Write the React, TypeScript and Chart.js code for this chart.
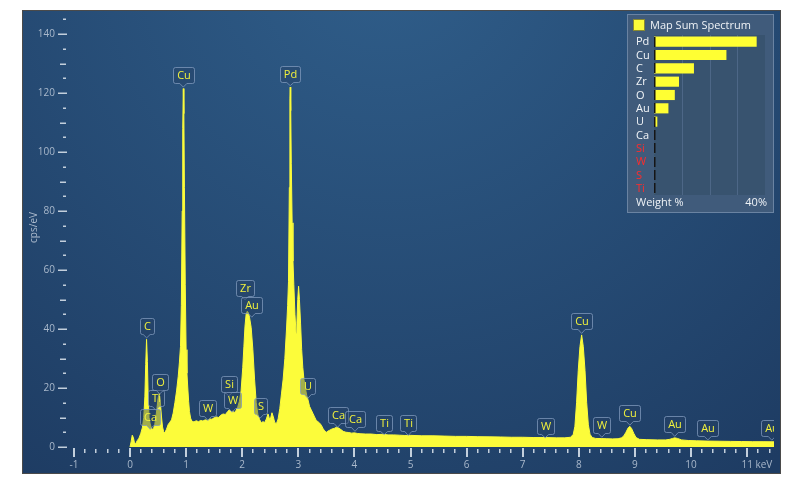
import React, { useEffect, useRef } from "react";
import { Chart, registerables } from "chart.js";
Chart.register(...registerables);

// ---------- spectrum data (keV, cps/eV) ----------
const spectrumEnergy = [
  0.0, 0.02, 0.04, 0.06, 0.08, 0.1, 0.13, 0.16, 0.19, 0.22, 0.245, 0.265, 0.28, 0.295, 0.31, 0.325, 0.34, 0.36, 0.38, 0.4,
  0.42, 0.44, 0.46, 0.48, 0.5, 0.52, 0.54, 0.56, 0.58, 0.6, 0.62, 0.65, 0.68, 0.71, 0.74, 0.77, 0.8, 0.83, 0.86, 0.88,
  0.9, 0.915, 0.93, 0.94, 0.95, 0.96, 0.97, 0.985, 1.0, 1.015, 1.03, 1.045, 1.06, 1.08, 1.1, 1.14, 1.18, 1.22, 1.26, 1.3,
  1.34, 1.38, 1.42, 1.46, 1.5, 1.54, 1.58, 1.62, 1.66, 1.7, 1.74, 1.77, 1.8, 1.83, 1.86, 1.89, 1.92, 1.95, 1.98, 2.01,
  2.03, 2.05, 2.07, 2.09, 2.11, 2.13, 2.16, 2.19, 2.22, 2.25, 2.28, 2.31, 2.34, 2.37, 2.4, 2.43, 2.46, 2.48, 2.5, 2.53,
  2.555, 2.58, 2.61, 2.64, 2.67, 2.7, 2.73, 2.76, 2.79, 2.81, 2.825, 2.84, 2.85, 2.856, 2.865, 2.875, 2.89, 2.905, 2.92, 2.94,
  2.96, 2.975, 2.99, 3.005, 3.02, 3.04, 3.06, 3.08, 3.1, 3.125, 3.15, 3.17, 3.2, 3.23, 3.26, 3.29, 3.32, 3.35, 3.38, 3.41,
  3.44, 3.47, 3.5, 3.53, 3.56, 3.6, 3.64, 3.68, 3.72, 3.76, 3.8, 3.85, 3.9, 3.95, 4.0, 4.05, 4.1, 4.2, 4.3, 4.4,
  4.5, 4.6, 4.7, 4.8, 4.9, 5.0, 5.2, 5.4, 5.6, 5.8, 6.0, 6.2, 6.4, 6.6, 6.8, 7.0, 7.2, 7.4, 7.6, 7.75,
  7.85, 7.9, 7.93, 7.96, 7.99, 8.02, 8.05, 8.08, 8.11, 8.14, 8.17, 8.2, 8.24, 8.3, 8.4, 8.5, 8.6, 8.7, 8.76, 8.8,
  8.84, 8.88, 8.91, 8.94, 8.98, 9.02, 9.08, 9.2, 9.4, 9.55, 9.62, 9.67, 9.71, 9.76, 9.83, 9.95, 10.1, 10.3, 10.5, 10.7,
  10.9, 11.1, 11.3, 11.5,
];
const spectrumCps = [
  0, 1.8, 4.0, 3.2, 1.4, 1.1, 2.2, 3.0, 4.5, 6.5, 10, 17, 28, 36.5, 29, 16, 10, 7.8, 6.5, 6.0,
  6.3, 7.5, 10, 13, 16.5, 18.2, 15.5, 10.5, 6.8, 5.2, 4.8, 6.0, 7.6, 8.4, 9.2, 11.5, 15, 19, 24, 28.5,
  34, 48, 80, 108, 121.5, 113, 88, 55, 33, 25, 20, 15.5, 12, 9.8, 8.8, 8.5, 8.9, 8.6, 9.0, 8.8,
  9.2, 9.0, 9.5, 9.4, 9.9, 10.2, 10.0, 10.8, 11.2, 11.0, 12.0, 12.6, 11.8, 12.2, 11.6, 12.4, 13.5, 15.5, 19, 27,
  34, 41, 45, 46, 45.5, 44, 40.5, 33, 23, 15, 11, 9.3, 8.2, 8.6, 8.3, 9.5, 11.2, 10.0, 9.3, 11.6,
  10.2, 8.3, 7.9, 9.5, 13, 18, 23, 30, 40, 48, 56, 88, 118, 122, 114, 96, 76, 63, 55, 45,
  38.5, 42, 50, 54.5, 50, 42, 33, 27, 23, 20, 17.5, 16.2, 13.8, 12.6, 11.4, 10.2, 9.0, 8.6, 8.1, 7.4,
  6.3, 5.4, 5.0, 5.4, 5.7, 6.1, 6.3, 6.7, 6.4, 5.9, 5.3, 5.0, 4.9, 4.7, 4.8, 4.6, 4.5, 4.4, 4.4, 4.2,
  4.3, 4.1, 4.1, 4.0, 3.9, 3.95, 3.8, 3.8, 3.7, 3.6, 3.6, 3.5, 3.45, 3.4, 3.3, 3.3, 3.2, 3.2, 3.1, 3.1,
  3.3, 4.2, 7, 15, 26, 34, 38, 34, 26, 15, 7.5, 4.3, 3.2, 2.9, 2.85, 2.8, 2.75, 2.8, 3.1, 3.7,
  5.0, 6.5, 7.0, 6.3, 4.6, 3.2, 2.6, 2.5, 2.4, 2.4, 2.6, 2.9, 3.1, 2.9, 2.4, 2.2, 2.1, 2.0, 1.95, 1.9,
  1.85, 1.8, 1.8, 1.75,
];

// ---------- peak markers ----------
const peakNames = ["C", "Ca", "Ti", "O", "Cu", "W", "Si", "W", "Zr", "Au", "S", "Pd", "U", "Ca", "Ca", "Ti", "Ti", "W", "Cu", "W", "Cu", "Au", "Au", "Au"];
const peakEnergy = [0.297, 0.36, 0.46, 0.53, 0.95, 1.39, 1.76, 1.82, 2.05, 2.17, 2.32, 2.856, 3.17, 3.7, 4.01, 4.53, 4.96, 7.4, 8.05, 8.41, 8.91, 9.71, 10.3, 11.44];
const peakCps = [37, 6, 12.5, 18, 122, 9.0, 17.3, 11.8, 50, 44, 9.8, 122.5, 16.5, 6.7, 5.3, 4.2, 3.9, 3.1, 38.5, 3.3, 7.4, 3.6, 2.4, 2.3];

// ---------- axis ticks ----------
const xMajorTicks = [-1, 0, 1, 2, 3, 4, 5, 6, 7, 8, 9, 10, 11];
const xTickLabels = ["-1", "0", "1", "2", "3", "4", "5", "6", "7", "8", "9", "10", "11"];
const yMajorTicks = [0, 20, 40, 60, 80, 100, 120, 140];
const yTickLabels = ["0", "20", "40", "60", "80", "100", "120", "140"];

// ---------- inset (weight %) ----------
const elements = ["Pd", "Cu", "C", "Zr", "O", "Au", "U", "Ca", "Si", "W", "S", "Ti"];
const weightPct = [37, 26.1, 14.4, 9.0, 7.5, 5.2, 1.2, 0.2, 0.05, 0.05, 0.05, 0.05];
const flagged = [false, false, false, false, false, false, false, false, true, true, true, true];
const insetGrid = [10, 20, 30];

const FONT = "'Open Sans', 'Noto Sans', sans-serif";
const YELLOW = "#fcfc3a";

const bgPlugin = {
  id: "bgPlugin",
  beforeDraw(chart: any) {
    const { ctx, width, height } = chart;
    ctx.save();
    const g = ctx.createRadialGradient(width * 0.48, -60, 20, width * 0.48, -60, 640);
    g.addColorStop(0, "#2f5d89");
    g.addColorStop(1, "#1e3c63");
    ctx.fillStyle = g;
    ctx.fillRect(0, 0, width, height);
    ctx.strokeStyle = "#4a4a4a";
    ctx.lineWidth = 1;
    ctx.strokeRect(0.5, 0.5, width - 1, height - 1);
    ctx.restore();
  },
};

const axesPlugin = {
  id: "axesPlugin",
  afterDraw(chart: any) {
    const { ctx, chartArea: a } = chart;
    const xs = chart.scales.x;
    const ys = chart.scales.y;
    ctx.save();
    ctx.fillStyle = "#c3cfdc";
    for (let v = 0; v <= 145; v += 5) {
      const py = Math.round(ys.getPixelForValue(v));
      if (yMajorTicks.includes(v)) ctx.fillRect(a.left - 12, py - 0.5, 9, 1.5);
      else if (v % 10 === 0) ctx.fillRect(a.left - 10, py - 0.5, 6, 1.5);
      else ctx.fillRect(a.left - 7, py - 0.5, 3, 1.5);
    }
    for (let i = -5; i <= 57; i++) {
      const v = i / 5;
      const px = Math.round(xs.getPixelForValue(v));
      if (i % 5 === 0) ctx.fillRect(px - 1, a.bottom + 1, 2, 9);
      else ctx.fillRect(px - 1, a.bottom + 2, 1.5, 4);
    }
    ctx.fillStyle = "#a9b8cb";
    ctx.font = `10px ${FONT}`;
    ctx.textBaseline = "middle";
    ctx.textAlign = "right";
    yMajorTicks.forEach((v, i) => {
      ctx.fillText(yTickLabels[i], a.left - 15, ys.getPixelForValue(v));
    });
    xMajorTicks.forEach((v, i) => {
      const px = xs.getPixelForValue(v);
      const py = a.bottom + 18;
      if (i === xMajorTicks.length - 1) {
        const w = ctx.measureText(xTickLabels[i]).width;
        ctx.textAlign = "left";
        ctx.fillText(xTickLabels[i] + " keV", px - w / 2, py);
      } else {
        ctx.textAlign = "center";
        ctx.fillText(xTickLabels[i], px, py);
      }
    });
    ctx.save();
    ctx.translate(a.left - 36, (a.top + a.bottom) / 2 - 2);
    ctx.rotate(-Math.PI / 2);
    ctx.textAlign = "center";
    ctx.fillText("cps/eV", 0, 0);
    ctx.restore();
    ctx.restore();
  },
};

const peakLabelPlugin = {
  id: "peakLabelPlugin",
  afterDatasetsDraw(chart: any) {
    const { ctx, chartArea: a } = chart;
    const xs = chart.scales.x;
    const ys = chart.scales.y;
    ctx.save();
    ctx.beginPath();
    ctx.rect(a.left, a.top, a.right - a.left, a.bottom - a.top);
    ctx.clip();
    ctx.font = `11px ${FONT}`;
    peakNames.forEach((name, i) => {
      const tx = xs.getPixelForValue(peakEnergy[i]);
      const ty = ys.getPixelForValue(peakCps[i]);
      const tw = ctx.measureText(name).width;
      const w = Math.round(tw + 7);
      const h = 16;
      const bottom = Math.round(ty - 4) + 0.5;
      const left = Math.round(tx - w / 2) + 0.5;
      const top = bottom - h;
      const r = 2;
      ctx.beginPath();
      ctx.moveTo(left + r, top);
      ctx.lineTo(left + w - r, top);
      ctx.quadraticCurveTo(left + w, top, left + w, top + r);
      ctx.lineTo(left + w, bottom - r);
      ctx.quadraticCurveTo(left + w, bottom, left + w - r, bottom);
      ctx.lineTo(tx + 3.5, bottom);
      ctx.lineTo(tx, ty);
      ctx.lineTo(tx - 3.5, bottom);
      ctx.lineTo(left + r, bottom);
      ctx.quadraticCurveTo(left, bottom, left, bottom - r);
      ctx.lineTo(left, top + r);
      ctx.quadraticCurveTo(left, top, left + r, top);
      ctx.closePath();
      ctx.fillStyle = "rgba(38, 64, 100, 0.42)";
      ctx.fill();
      ctx.strokeStyle = "rgba(130, 155, 190, 0.75)";
      ctx.lineWidth = 1;
      ctx.stroke();
      ctx.fillStyle = "#f2f23c";
      ctx.textAlign = "center";
      ctx.textBaseline = "middle";
      ctx.fillText(name, left + w / 2, top + h / 2 + 0.5);
    });
    ctx.restore();
  },
};

const insetPlugin = {
  id: "insetPlugin",
  beforeDraw(chart: any) {
    const { ctx, width, height, chartArea: a } = chart;
    const xs = chart.scales.x;
    ctx.save();
    ctx.fillStyle = "#405b7b";
    ctx.fillRect(0, 0, width, height);
    ctx.strokeStyle = "#6a83a2";
    ctx.lineWidth = 1;
    ctx.strokeRect(0.5, 0.5, width - 1, height - 1);
    ctx.fillStyle = "#38536f";
    ctx.fillRect(a.left, a.top, a.right - a.left, a.bottom - a.top);
    ctx.fillStyle = "#4d6787";
    insetGrid.forEach((v) => {
      const px = Math.round(xs.getPixelForValue(v));
      ctx.fillRect(px, a.top, 1, a.bottom - a.top);
    });
    ctx.restore();
  },
  afterDraw(chart: any) {
    const { ctx, chartArea: a } = chart;
    const xs = chart.scales.x;
    const ys = chart.scales.y;
    ctx.save();
    ctx.font = `11px ${FONT}`;
    ctx.textBaseline = "middle";
    ctx.textAlign = "left";
    const x0 = xs.getPixelForValue(0);
    elements.forEach((el, i) => {
      const py = ys.getPixelForValue(i);
      ctx.fillStyle = "#151515";
      ctx.fillRect(Math.round(x0), Math.round(py - 5), 1.5, 10);
    });
    elements.forEach((el, i) => {
      const py = ys.getPixelForValue(i);
      ctx.fillStyle = flagged[i] ? "#ff2b2b" : "#f2f5f8";
      ctx.fillText(el, 9, py + 0.5);
    });
    ctx.fillStyle = YELLOW;
    ctx.fillRect(6, 5, 12, 12);
    ctx.strokeStyle = "#8a8a30";
    ctx.strokeRect(6.5, 5.5, 11, 11);
    ctx.fillStyle = "#eef2f6";
    ctx.fillText("Map Sum Spectrum", 23, 12);
    ctx.fillText("Weight %", 9, a.bottom + 8);
    ctx.textAlign = "right";
    ctx.fillText("40%", a.right + 2, a.bottom + 8);
    ctx.restore();
  },
};

export default function App() {
  const mainRef = useRef<HTMLCanvasElement>(null);
  const insetRef = useRef<HTMLCanvasElement>(null);

  useEffect(() => {
    const points = spectrumEnergy.map((e, i) => ({ x: e, y: spectrumCps[i] }));
    const main = new Chart(mainRef.current as HTMLCanvasElement, {
      type: "line",
      data: {
        datasets: [
          {
            data: points,
            borderColor: YELLOW,
            backgroundColor: YELLOW,
            borderWidth: 1,
            fill: "origin",
            pointRadius: 0,
            tension: 0,
          },
        ],
      },
      options: {
        responsive: false,
        animation: false,
        events: [],
        layout: { padding: { left: 48, right: 7, top: 2, bottom: 27 } },
        plugins: { legend: { display: false }, tooltip: { enabled: false } },
        scales: {
          x: { type: "linear", min: -1.0695, max: 11.479, display: false },
          y: { type: "linear", min: 0, max: 147.46, display: false },
        },
      },
      plugins: [bgPlugin, peakLabelPlugin, axesPlugin],
    } as any);

    const inset = new Chart(insetRef.current as HTMLCanvasElement, {
      type: "bar",
      data: {
        labels: elements,
        datasets: [
          {
            data: weightPct,
            backgroundColor: "#ffff33",
            borderWidth: 0,
            barPercentage: 0.76,
            categoryPercentage: 1,
          },
        ],
      },
      options: {
        indexAxis: "y",
        responsive: false,
        animation: false,
        events: [],
        layout: { padding: { left: 27, right: 9, top: 21, bottom: 18 } },
        plugins: { legend: { display: false }, tooltip: { enabled: false } },
        scales: {
          x: { type: "linear", min: 0, max: 40, display: false },
          y: { type: "category", display: false },
        },
      },
      plugins: [insetPlugin],
    } as any);

    return () => {
      main.destroy();
      inset.destroy();
    };
  }, []);

  return (
    <div style={{ position: "absolute", left: 0, top: 0, width: 785, height: 492, background: "#ffffff" }}>
      <canvas
        ref={mainRef}
        width={759}
        height={464}
        style={{ position: "absolute", left: 22, top: 10, width: 759, height: 464 }}
      />
      <canvas
        ref={insetRef}
        width={147}
        height={199}
        style={{ position: "absolute", left: 627, top: 14, width: 147, height: 199 }}
      />
    </div>
  );
}
